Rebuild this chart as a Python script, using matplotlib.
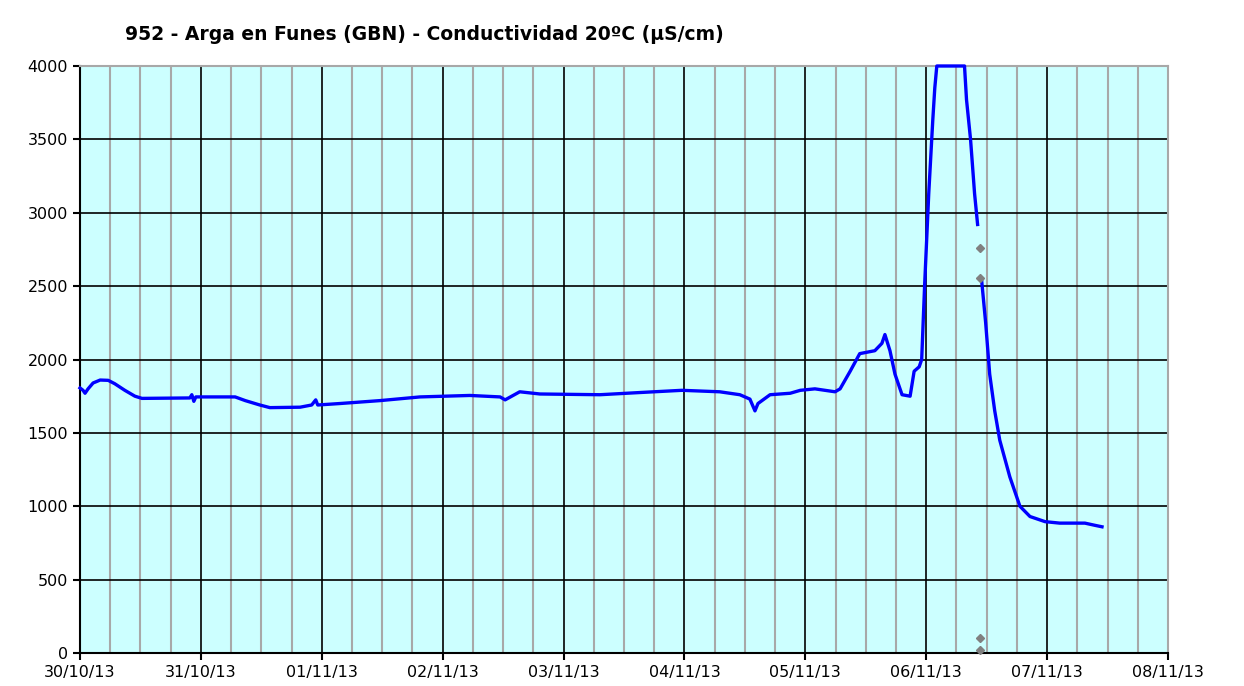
import numpy as np
import matplotlib.pyplot as plt
from matplotlib.ticker import MultipleLocator

# hours since 30/10/13 00:00 and conductivity (uS/cm)
hours = [0.0, 0.6, 1.0, 1.6, 2.6, 4.0, 5.6, 6.9, 8.9, 10.9, 12.3, 21.8, 22.2, 22.6, 23.0,
         30.8, 32.8, 35.7, 37.7, 43.7, 46.0, 46.8, 47.2, 51.6, 59.6, 67.5, 77.4, 83.4, 84.4,
         87.3, 91.3, 103.2, 111.2, 119.5, 127.0, 131.0, 133.0, 134.0, 134.6, 137.0, 141.0,
         143.0, 145.9, 149.9, 150.9, 152.9, 154.8, 157.8, 159.2, 159.8, 160.8, 161.8, 163.2,
         164.8, 165.6, 166.6, 167.1, 167.7, 168.5, 169.3, 169.7, 170.1, 175.6, 176.0, 176.8,
         177.6, 178.2,
         178.6,
         179.0, 179.8, 180.6, 181.6, 182.6, 184.6, 186.6, 188.6, 191.6, 194.5, 199.5, 201.5, 202.9]
values = [1806, 1790, 1770, 1800, 1840, 1860, 1858, 1835, 1790, 1750, 1735, 1738, 1760, 1715, 1745,
          1745, 1720, 1690, 1672, 1675, 1690, 1725, 1690, 1700, 1720, 1745, 1755, 1745, 1725,
          1780, 1765, 1760, 1775, 1790, 1780, 1760, 1730, 1650, 1700, 1760, 1770,
          1790, 1800, 1780, 1800, 1920, 2040, 2060, 2110, 2170, 2060, 1900, 1760,
          1750, 1920, 1950, 2000, 2520, 3130, 3630, 3850, 4000, 4000, 3770, 3500,
          3130, 2920,
          np.nan,
          2540, 2250, 1900, 1650, 1450, 1200, 1000, 930, 895, 885, 885, 870, 860]

# isolated readings shown as grey diamonds
point_hours = [178.6, 178.6, 178.6, 178.6]
point_values = [2760, 2555, 100, 20]

tick_labels = ['30/10/13', '31/10/13', '01/11/13', '02/11/13', '03/11/13',
               '04/11/13', '05/11/13', '06/11/13', '07/11/13', '08/11/13']

days = np.array(hours) / 24.0
pdays = np.array(point_hours) / 24.0

fig = plt.figure(figsize=(12.44, 6.86), dpi=100)
ax = fig.add_axes([80 / 1244, 33 / 686, 1088 / 1244, 587 / 686])
ax.set_facecolor('#CCFFFF')

ax.set_xlim(0, 9)
ax.set_ylim(0, 4000)
ax.xaxis.set_minor_locator(MultipleLocator(0.25))
ax.yaxis.set_major_locator(MultipleLocator(500))
ax.set_xticks(range(10))
ax.set_xticklabels(tick_labels)

ax.grid(True, which='minor', axis='x', color='#A8A8A8', linewidth=1.5, zorder=0)
ax.grid(True, which='major', axis='both', color='black', linewidth=1.2, zorder=1)
ax.set_axisbelow(True)

ax.plot(days, values, color='#0000FF', linewidth=2.4, clip_on=False, zorder=3)
ax.plot(pdays, point_values, linestyle='none', marker='D', markersize=4.5,
        color='#808080', clip_on=False, zorder=4)

for s in ['top', 'right']:
    ax.spines[s].set_color('#A8A8A8')
    ax.spines[s].set_linewidth(1.5)
for s in ['left', 'bottom']:
    ax.spines[s].set_color('black')
    ax.spines[s].set_linewidth(1.5)

ax.tick_params(axis='both', which='major', length=5, width=1.5, labelsize=11.5, colors='black')
ax.tick_params(axis='x', which='minor', length=0)
ax.tick_params(axis='x', pad=4)

fig.text(125 / 1244, 1 - 35 / 686, '952 - Arga en Funes (GBN) - Conductividad 20ºC (µS/cm)',
         fontsize=13.5, fontweight='bold', va='center', ha='left')

fig.savefig('out.png', dpi=100, facecolor='white')
